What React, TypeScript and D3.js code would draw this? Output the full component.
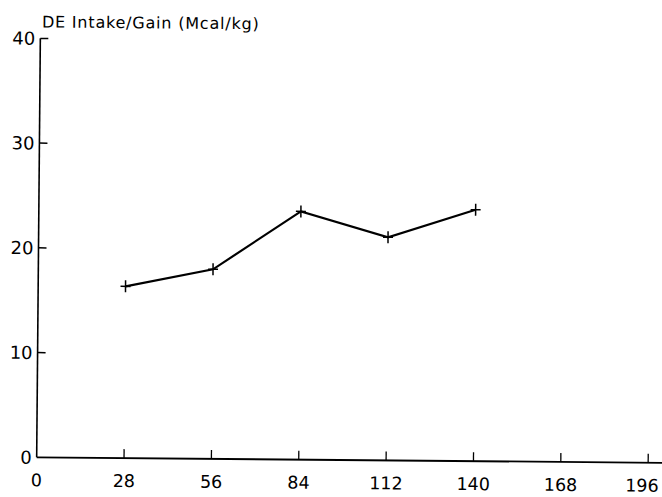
import React from "react";
import * as d3 from "d3";

const days = [28, 56, 84, 112, 140];
const deIntakePerGain = [16.4, 18.1, 23.7, 21.3, 24.0];
const xTicks = [0, 28, 56, 84, 112, 140, 168, 196];
const yTicks = [0, 10, 20, 30, 40];
const yTitle = "DE Intake/Gain (Mcal/kg)";

const W = 662;
const H = 497;
const FONT = "'DejaVu Sans', Verdana, sans-serif";

export default function App() {
  const x = d3.scaleLinear().domain([0, 196]).range([38.5, 650]);
  const y = d3.scaleLinear().domain([0, 40]).range([460, 41]);
  const pts: [number, number][] = days.map((d, i) => [x(d), y(deIntakePerGain[i])]);
  const line = d3.line()(pts) || "";

  return (
    <svg
      width={W}
      height={H}
      style={{ position: "absolute", left: 0, top: 0, background: "#fff" }}
      fontFamily={FONT}
    >
      <g transform="rotate(0.5, 340, 250)">
        {/* axes */}
        <line x1={x(0)} x2={x(0)} y1={y(40)} y2={y(0)} stroke="#000" strokeWidth={1.6} />
        <line x1={x(0)} x2={666} y1={y(0)} y2={y(0)} stroke="#000" strokeWidth={1.8} />

        {yTicks.map((t) => (
          <g key={"y" + t}>
            {t > 0 && (
              <line x1={x(0)} x2={x(0) + 8} y1={y(t)} y2={y(t)} stroke="#000" strokeWidth={1.5} />
            )}
            <text
              x={x(0) - 5}
              y={y(t)}
              dy="0.36em"
              textAnchor="end"
              fontSize={18}
              fill="#000"
            >
              {t}
            </text>
          </g>
        ))}

        {xTicks.map((t) => (
          <g key={"x" + t}>
            {t > 0 && (
              <line x1={x(t)} x2={x(t)} y1={y(0)} y2={y(0) - 9} stroke="#000" strokeWidth={1.3} />
            )}
            {/* keep the last label inside the frame */}
            <text
              x={Math.min(x(t), 644)}
              y={y(0) + 29}
              textAnchor="middle"
              fontSize={17.5}
              fill="#000"
            >
              {t}
            </text>
          </g>
        ))}

        <text x={40} y={30} fontSize={16} letterSpacing={0.8} fill="#000">
          {yTitle}
        </text>

        {/* series */}
        <path d={line} fill="none" stroke="#000" strokeWidth={2.2} />
        {pts.map(([px, py], i) => (
          <g key={"m" + i} stroke="#000" strokeWidth={1.5}>
            <line x1={px - 5} x2={px + 5} y1={py} y2={py} />
            <line x1={px} x2={px} y1={py - 6} y2={py + 6} />
          </g>
        ))}
      </g>
    </svg>
  );
}
